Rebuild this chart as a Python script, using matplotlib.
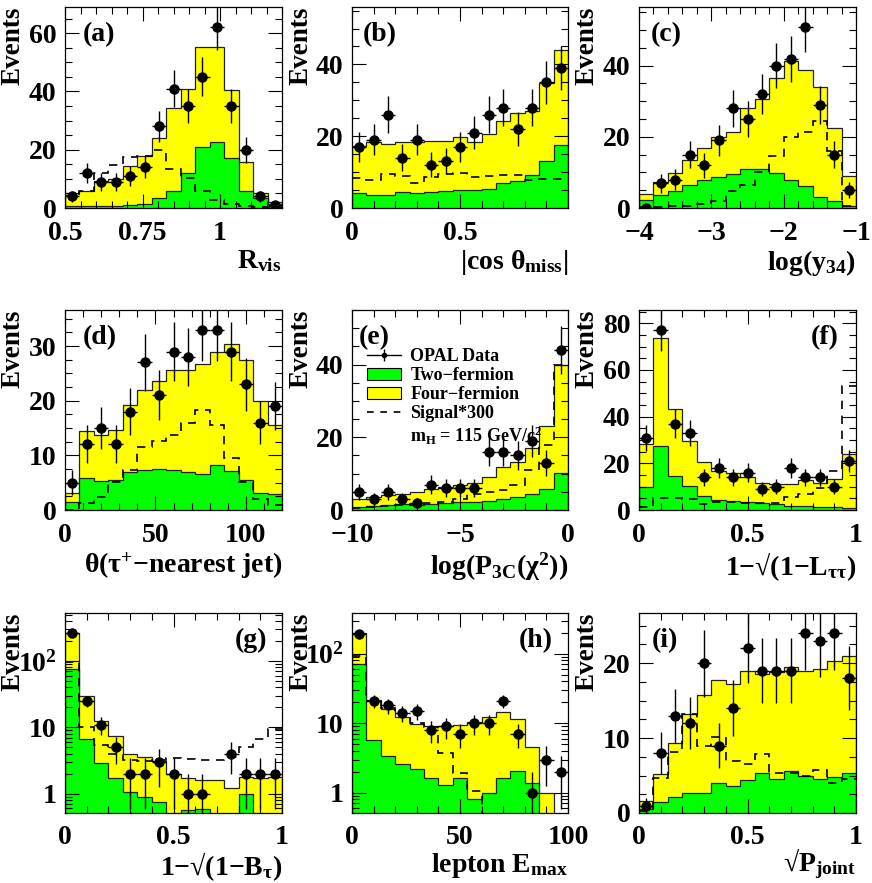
import numpy as np
import matplotlib
matplotlib.use('Agg')
import matplotlib.pyplot as plt
from matplotlib.lines import Line2D
from matplotlib.patches import Patch
from matplotlib.ticker import MultipleLocator, LogLocator, NullFormatter

plt.rcParams['font.family'] = ['Liberation Serif', 'DejaVu Serif']
plt.rcParams['font.weight'] = 'bold'
plt.rcParams['axes.labelweight'] = 'bold'
plt.rcParams['mathtext.fontset'] = 'custom'
plt.rcParams['mathtext.rm'] = 'Liberation Serif:bold'
plt.rcParams['mathtext.it'] = 'Liberation Serif:bold'
plt.rcParams['mathtext.bf'] = 'Liberation Serif:bold'

YELLOW = '#ffff00'
GREEN = '#00ff00'

# ---- (a) R_vis
range_a = (0.5, 1.2)
data_a = [4, 12, 9, 9, 11, 14, 28, 41, 35, 45, 62, 35, 20, 4, 1]
total_a = [5.2, 5.7, 9.1, 10, 14.3, 18, 24, 34.3, 41, 55.2, 55.4, 40.6, 15.8, 5.1, 2]
twof_a = [0.6, 0.8, 0.8, 0.8, 1.1, 1.5, 3.4, 6, 12, 21.1, 22.5, 17.1, 6, 3.4, 1.5]
sig_a = [4, 6, 12, 14.8, 17.6, 17.8, 19.8, 13.4, 10.3, 5.9, 2.9, 1.5, 0.8, 0.5, 0.3]

# ---- (b) |cos theta_miss|
range_b = (0, 1)
data_b = [17, 19, 26, 14, 19, 12, 13, 17, 21, 26, 28, 22, 28, 35, 39]
total_b = [17.4, 18.5, 17.9, 18.3, 18.5, 18.8, 18.8, 19.7, 18.5, 20.6, 24.1, 26.6, 26.9, 34.7, 44]
twof_b = [4.2, 3.7, 3.7, 4.4, 4.2, 4.4, 4.8, 5.1, 5.1, 5.3, 7.1, 7.6, 9.1, 13.1, 17.6]
sig_b = [8.3, 7.9, 9.4, 8.8, 6.9, 8.6, 9.5, 9.7, 8.6, 8.8, 9.1, 9.1, 7.9, 8.1, 8.1]

# ---- (c) log(y34)
range_c = (-4, -1)
data_c = [0, 7, 8, 15, 12, 19, 28, 25, 32, 40, 42, 51, 29, 15, 5]
total_c = [3.9, 7.2, 9.8, 13.6, 16.9, 19.9, 21.5, 28, 30.6, 36.5, 41.2, 38.9, 34, 22.5, 8.9]
twof_c = [2.3, 3.6, 4.9, 6.6, 8, 8.7, 9.6, 11, 11, 9.8, 8, 6.1, 3.1, 2.1, 0.7]
sig_c = [0.2, 0.3, 0.5, 0.7, 1.2, 1.9, 4.7, 6.4, 10, 14.7, 19.9, 21.3, 24.4, 15.9, 0.5]

# ---- (d) theta(tau - nearest jet)
range_d = (0, 120)
data_d = [5, 12, 15, 12, 18, 27, 21, 29, 28, 33, 33, 29, 23, 16, 19]
total_d = [3.2, 14.5, 13.8, 14.6, 19.3, 22, 23.6, 25.6, 25.6, 26.8, 29, 30.3, 27.4, 19.9, 15.5]
twof_d = [1.5, 5.9, 5.3, 5.5, 6.9, 7.4, 7.5, 7.3, 7, 6.5, 8.2, 7.1, 5.5, 3.2, 2.9]
sig_d = [0, 1.2, 2.4, 5.1, 7.3, 11.6, 12.6, 13.7, 16, 18.3, 15.5, 9.6, 5.2, 2, 1]

# ---- (e) log(P3C(chi2))
range_e = (-10, 0)
data_e = [5, 3, 5, 3, 2, 7, 6, 6, 6, 16, 16, 15, 19, 13, 44]
total_e = [3.0, 3.7, 4.1, 4.4, 4.9, 5.7, 6.2, 6.9, 7.5, 9.2, 11.7, 13.3, 17, 23, 40]
twof_e = [0.9, 1.2, 1.4, 1.6, 1.4, 1.7, 1.8, 2.1, 2.1, 2.6, 3, 3.7, 4.4, 5.7, 10.3]
sig_e = [0.6, 0.7, 1.1, 1.4, 1.7, 2, 2.3, 3, 4.4, 5, 5.5, 6.9, 11, 17.9, 39.8]

# ---- (f) 1-sqrt(1-L_tautau)
range_f = (0, 1)
data_f = [31, 77, 37, 33, 14, 18, 14, 16, 9, 10, 18, 14, 14, 10, 21]
total_f = [28.1, 73.9, 43.1, 29.7, 20.7, 16.9, 15.7, 14.3, 11.7, 11.1, 11.1, 12.7, 11.4, 13.1, 23.9]
twof_f = [10, 27.6, 14.6, 10.4, 6.1, 4.3, 3.9, 3.3, 2.9, 2.4, 1.7, 1.7, 1.4, 1.1, 1]
sig_f = [1.4, 5, 5, 4.7, 2.6, 3.3, 3.3, 2.9, 2.9, 2.9, 5.7, 6.7, 9.6, 16.9, 53.3]

# ---- (g) 1-sqrt(1-B_tau)  (log y)
range_g = (0, 1)
data_g = [267, 25, 11, 5, 2, 2, 3, 2, 1, 1, 0, 4, 2, 2, 2]
total_g = [265, 30, 12.3, 7.3, 4.0, 3.6, 3.1, 2.0, 1.7, 1.6, 1.6, 1.2, 1.8, 1.7, 1.75]
twof_g = [76, 6.7, 2.9, 1.7, 1.06, 0.89, 0.75, 0.3, 0.56, 0.59, 0, 0, 0.98, 0, 0]
sig_g = [97, 10, 5.4, 4.0, 3.2, 3.1, 3.25, 3.4, 3.3, 3.2, 3.2, 3.6, 5.0, 6.7, 9.5]

# ---- (h) lepton E_max  (log y)
range_h = (0, 100)
data_h = [190, 21, 18, 14, 15, 8, 9, 7, 10, 10, 21, 7, 1, 3, 2]
total_h = [199, 21.3, 16.2, 12.3, 9.8, 9.0, 9.0, 9.5, 10.4, 12.3, 14.5, 11.6, 4.6, 1.0, 0]
twof_h = [72, 5.7, 3.4, 2.6, 2.2, 1.6, 1.3, 1.6, 0.8, 1.0, 1.6, 2.05, 1.4, 0, 0]
sig_h = [92, 21, 16.5, 13, 10, 8.8, 3.7, 1.9, 1.05, 0, 0, 0, 0, 0, 0]

# ---- (i) sqrt(P_joint)
range_i = (0, 1)
data_i = [1, 8, 13, 12, 20, 9, 14, 22, 19, 19, 19, 24, 23, 24, 18]
total_i = [1.6, 5.2, 9.3, 13.2, 15.8, 17.8, 17.2, 19, 18.5, 18.8, 19.5, 18.9, 19.2, 20.3, 21]
twof_i = [0.6, 1.5, 2.1, 2.7, 2.7, 4, 3.6, 4.4, 5.3, 4.6, 5.6, 4.9, 4.6, 4.8, 5.3]
sig_i = [0.3, 4.7, 8.1, 13.2, 8.9, 10.1, 6.9, 6.5, 7.9, 5.3, 5.3, 4.9, 5.8, 4.0, 4.6]


def draw_panel(ax, rng, data, total, twof, sig, log=False):
    edges = np.linspace(rng[0], rng[1], len(data) + 1)
    centers = 0.5 * (edges[1:] + edges[:-1])
    half = 0.5 * (edges[1] - edges[0])
    total = np.array(total, float)
    twof = np.array(twof, float)
    sig = np.array(sig, float)
    data = np.array(data, float)
    base = 0
    if log:
        base = 1e-3
        total = np.maximum(total, base)
        twof = np.maximum(twof, base)
        sig = np.maximum(sig, base)
    ax.stairs(total, edges, baseline=base, fill=True, color=YELLOW, lw=0)
    ax.stairs(total, edges, baseline=base, color='#222222', lw=0.9)
    ax.stairs(twof, edges, baseline=base, fill=True, color=GREEN, lw=0)
    ax.stairs(twof, edges, baseline=base, color='#222222', lw=0.9)
    ax.stairs(sig, edges, baseline=None, color='k', lw=1.2, linestyle=(0, (5, 4)))
    err = np.sqrt(data)
    if log:
        m = data > 0
        lo = np.minimum(err, data - 0.01)
        ax.errorbar(centers[m], data[m], yerr=[lo[m], err[m]], xerr=half,
                    fmt='o', color='k', ms=6.5, lw=1, capsize=0)
    else:
        ax.errorbar(centers, data, yerr=err, xerr=half,
                    fmt='o', color='k', ms=6.5, lw=1, capsize=0)
    ax.set_xlim(rng)


def style(ax, xticks, xlabels, xminor, ylim, ymajor=None, yminor=None):
    ax.set_xticks(xticks, xlabels)
    ax.xaxis.set_minor_locator(MultipleLocator(xminor))
    ax.set_ylim(ylim)
    if ymajor is not None:
        ax.yaxis.set_major_locator(MultipleLocator(ymajor))
        ax.yaxis.set_minor_locator(MultipleLocator(yminor))
    ax.tick_params(which='both', direction='in', top=True, right=True, width=0.8)
    ax.tick_params(which='major', length=10, labelsize=20, pad=6)
    ax.tick_params(axis='x', which='major', pad=9)
    ax.tick_params(which='minor', length=5)
    for s in ax.spines.values():
        s.set_linewidth(0.9)
    ax.set_ylabel('Events', loc='top', fontsize=19.5)
    ax.yaxis.set_label_coords(-0.18, 1.0)


fig = plt.figure(figsize=(8.72, 8.83), dpi=100)
W, H = 872, 883


def make_ax(x0, x1, y0, y1):
    return fig.add_axes([x0 / W, 1 - y1 / H, (x1 - x0) / W, (y1 - y0) / H])


cols = [(65, 282), (352, 568), (639, 856)]
rows = [(7, 208), (310, 510), (613, 813)]

axa = make_ax(*cols[0], *rows[0])
axb = make_ax(*cols[1], *rows[0])
axc = make_ax(*cols[2], *rows[0])
axd = make_ax(*cols[0], *rows[1])
axe = make_ax(*cols[1], *rows[1])
axf = make_ax(*cols[2], *rows[1])
axg = make_ax(*cols[0], *rows[2])
axh = make_ax(*cols[1], *rows[2])
axi = make_ax(*cols[2], *rows[2])

draw_panel(axa, range_a, data_a, total_a, twof_a, sig_a)
style(axa, [0.5, 0.75, 1], ['0.5', '0.75', '1'], 0.05, (0, 69), 20, 5)
axa.set_xlabel('R$_{vis}$', loc='right', fontsize=20, labelpad=2)

draw_panel(axb, range_b, data_b, total_b, twof_b, sig_b)
style(axb, [0, 0.5, 1], ['0', '0.5', ''], 0.1, (0, 56), 20, 5)
axb.set_xlabel('|cos θ$_{miss}$|', loc='right', fontsize=20, labelpad=2)

draw_panel(axc, range_c, data_c, total_c, twof_c, sig_c)
style(axc, [-4, -3, -2, -1], ['\u22124', '\u22123', '\u22122', '\u22121'], 0.2, (0, 56.5), 20, 5)
axc.set_xlabel('log(y$_{34}$)', loc='right', fontsize=20, labelpad=2)

draw_panel(axd, range_d, data_d, total_d, twof_d, sig_d)
style(axd, [0, 50, 100], ['0', '50', '100'], 10, (0, 36.6), 10, 2.5)
axd.set_xlabel('θ(τ$^{+}$\u2212nearest jet)', loc='right', fontsize=20, labelpad=2)

draw_panel(axe, range_e, data_e, total_e, twof_e, sig_e)
style(axe, [-10, -5, 0], ['\u221210', '\u22125', '0'], 1, (0, 55), 20, 5)
axe.set_xlabel('log(P$_{3C}$(χ$^{2}$))', loc='right', fontsize=20, labelpad=2)

draw_panel(axf, range_f, data_f, total_f, twof_f, sig_f)
style(axf, [0, 0.5, 1], ['0', '0.5', '1'], 0.1, (0, 85.7), 20, 5)
axf.set_xlabel('1\u2212√(1\u2212L$_{\\tau\\tau}$)', loc='right', fontsize=20, labelpad=2)

for ax in (axg, axh):
    ax.set_yscale('log')
draw_panel(axg, range_g, data_g, total_g, twof_g, sig_g, log=True)
style(axg, [0, 0.5, 1], ['0', '0.5', '1'], 0.1, (0.51, 530))
axg.set_xlabel('1\u2212√(1\u2212B$_{\\tau}$)', loc='right', fontsize=20, labelpad=0)

draw_panel(axh, range_h, data_h, total_h, twof_h, sig_h, log=True)
style(axh, [0, 50, 100], ['0', '50', '100'], 10, (0.51, 385))
axh.set_xlabel('lepton E$_{max}$', loc='right', fontsize=20, labelpad=0)

for ax in (axg, axh):
    ax.set_yticks([1, 10, 100], ['1', '10', '10$^{2}$'])
    ax.yaxis.set_minor_locator(LogLocator(base=10, subs=np.arange(2, 10)))
    ax.yaxis.set_minor_formatter(NullFormatter())

draw_panel(axi, range_i, data_i, total_i, twof_i, sig_i)
style(axi, [0, 0.5, 1], ['0', '0.5', '1'], 0.1, (0, 26.7), 10, 2.5)
axi.set_xlabel('√P$_{joint}$', loc='right', fontsize=20, labelpad=-3)

# panel letters
letters = [(axa, '(a)', 0.08, 'left'), (axb, '(b)', 0.05, 'left'), (axc, '(c)', 0.055, 'left'),
           (axd, '(d)', 0.08, 'left'), (axe, '(e)', 0.03, 'left'), (axf, '(f)', 0.92, 'right'),
           (axg, '(g)', 0.93, 'right'), (axh, '(h)', 0.93, 'right'), (axi, '(i)', 0.06, 'left')]
for ax, txt, xf, ha in letters:
    ax.text(xf, 0.925, txt, transform=ax.transAxes, ha=ha, va='top', fontsize=20)

# legend in (e)
h_data = (Line2D([], [], color='k', lw=1),
          Line2D([], [], color='k', marker='|', ms=9, ls=''),
          Line2D([], [], color='k', marker='o', ms=3, ls=''))
handles = [h_data,
           Patch(facecolor=GREEN, edgecolor='k', lw=0.8),
           Patch(facecolor=YELLOW, edgecolor='k', lw=0.8),
           Line2D([], [], color='k', lw=1.2, linestyle=(0, (4, 4))),
           Line2D([], [], color='none')]
labels = ['OPAL Data', 'Two\u2212fermion', 'Four\u2212fermion', 'Signal*300',
          'm$_{H}$ = 115 GeV/c$^{2}$']
axe.legend(handles, labels, loc='upper left', bbox_to_anchor=(0.07, 0.81), frameon=False,
           fontsize=13, handlelength=1.9, handletextpad=0.5, labelspacing=0.12,
           borderpad=0, borderaxespad=0)

fig.savefig('out.png', dpi=100)
